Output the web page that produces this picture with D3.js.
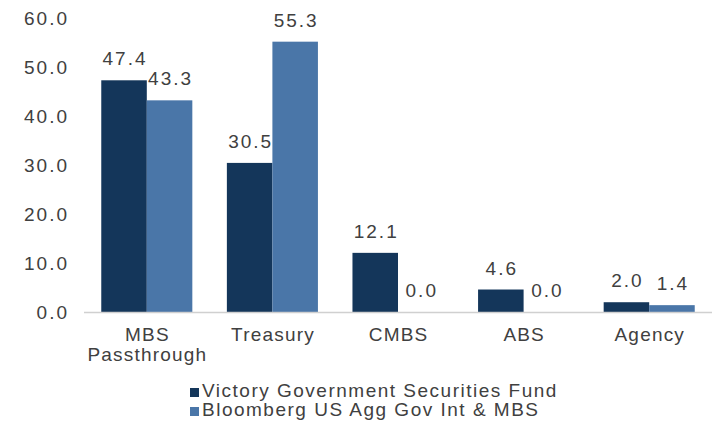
<!DOCTYPE html>
<html>
<head>
<meta charset="utf-8">
<script src="https://cdn.jsdelivr.net/npm/d3@7"></script>
<style>
  body { margin: 0; background: #fff; }
  text { font-family: "Liberation Sans", Arial, sans-serif; fill: #404040; }
</style>
</head>
<body>
<div id="chart"></div>
<script>
const categories = ["MBS Passthrough", "Treasury", "CMBS", "ABS", "Agency"];
const fundValues = [47.4, 30.5, 12.1, 4.6, 2.0];
const benchValues = [43.3, 55.3, 0.0, 0.0, 1.4];
const seriesNames = ["Victory Government Securities Fund", "Bloomberg US Agg Gov Int & MBS"];
const yTicks = [0, 10, 20, 30, 40, 50, 60];

const colors = ["#14365a", "#4a76a8"];
const W = 715, H = 424;
const margin = { top: 18.7, right: 3, bottom: 112, left: 84 };
const width = W - margin.left - margin.right;
const height = H - margin.top - margin.bottom;

const svg = d3.select("#chart").append("svg")
  .attr("width", W)
  .attr("height", H);

const g = svg.append("g")
  .attr("transform", `translate(${margin.left},${margin.top})`);

const x = d3.scaleBand()
  .domain(categories)
  .range([0, width])
  .paddingInner(0.275)
  .paddingOuter(0.1375);

const sub = d3.scaleBand()
  .domain([0, 1])
  .range([0, x.bandwidth()]);

const y = d3.scaleLinear()
  .domain([0, 60])
  .range([height, 0]);

// y labels, no axis line
g.append("g")
  .call(d3.axisLeft(y).tickValues(yTicks).tickFormat(d3.format(".1f")).tickSize(0).tickPadding(15))
  .call(a => a.select(".domain").remove())
  .call(a => a.selectAll(".tick text")
    .style("font-size", "19px")
    .style("letter-spacing", "2px")
    .style("fill", "#404040")
    .style("font-family", "Liberation Sans, Arial, sans-serif"));

const series = [fundValues, benchValues];

series.forEach((vals, si) => {
  g.selectAll(".bar" + si)
    .data(categories)
    .enter()
    .append("rect")
    .attr("x", d => x(d) + sub(si))
    .attr("y", (d, i) => y(vals[i]))
    .attr("width", sub.bandwidth())
    .attr("height", (d, i) => height - y(vals[i]))
    .attr("fill", colors[si]);

  g.selectAll(".lab" + si)
    .data(categories)
    .enter()
    .append("text")
    .attr("x", d => x(d) + sub(si) + sub.bandwidth() / 2 + 1)
    .attr("y", (d, i) => y(vals[i]) - 15)
    .attr("text-anchor", "middle")
    .style("font-size", "19px")
    .style("letter-spacing", "2px")
    .text((d, i) => vals[i].toFixed(1));
});

// baseline
g.append("line")
  .attr("x1", 0)
  .attr("x2", width)
  .attr("y1", height + 0.5)
  .attr("y2", height + 0.5)
  .attr("stroke", "#d0d0d0")
  .attr("stroke-width", 1.5);

// category labels, first one on two lines
const xl = g.append("g");
categories.forEach(c => {
  const cx = x(c) + x.bandwidth() / 2 + 0.6;
  const t = xl.append("text")
    .attr("x", cx)
    .attr("y", height + 29)
    .attr("text-anchor", "middle")
    .style("font-size", "19px")
    .style("letter-spacing", "1.2px");
  const words = c === "MBS Passthrough" ? c.split(" ") : [c];
  words.forEach((w, i) => {
    t.append("tspan")
      .attr("x", cx)
      .attr("dy", i === 0 ? 0 : 20)
      .text(w);
  });
});

// legend
const legend = svg.append("g")
  .attr("transform", "translate(190,397)");

seriesNames.forEach((name, i) => {
  legend.append("rect")
    .attr("x", 0)
    .attr("y", i * 19 - 9)
    .attr("width", 9)
    .attr("height", 9)
    .attr("fill", colors[i]);
  legend.append("text")
    .attr("x", 12)
    .attr("y", i * 19)
    .style("font-size", "19px")
    .style("letter-spacing", "1.5px")
    .text(name);
});
</script>
</body>
</html>
